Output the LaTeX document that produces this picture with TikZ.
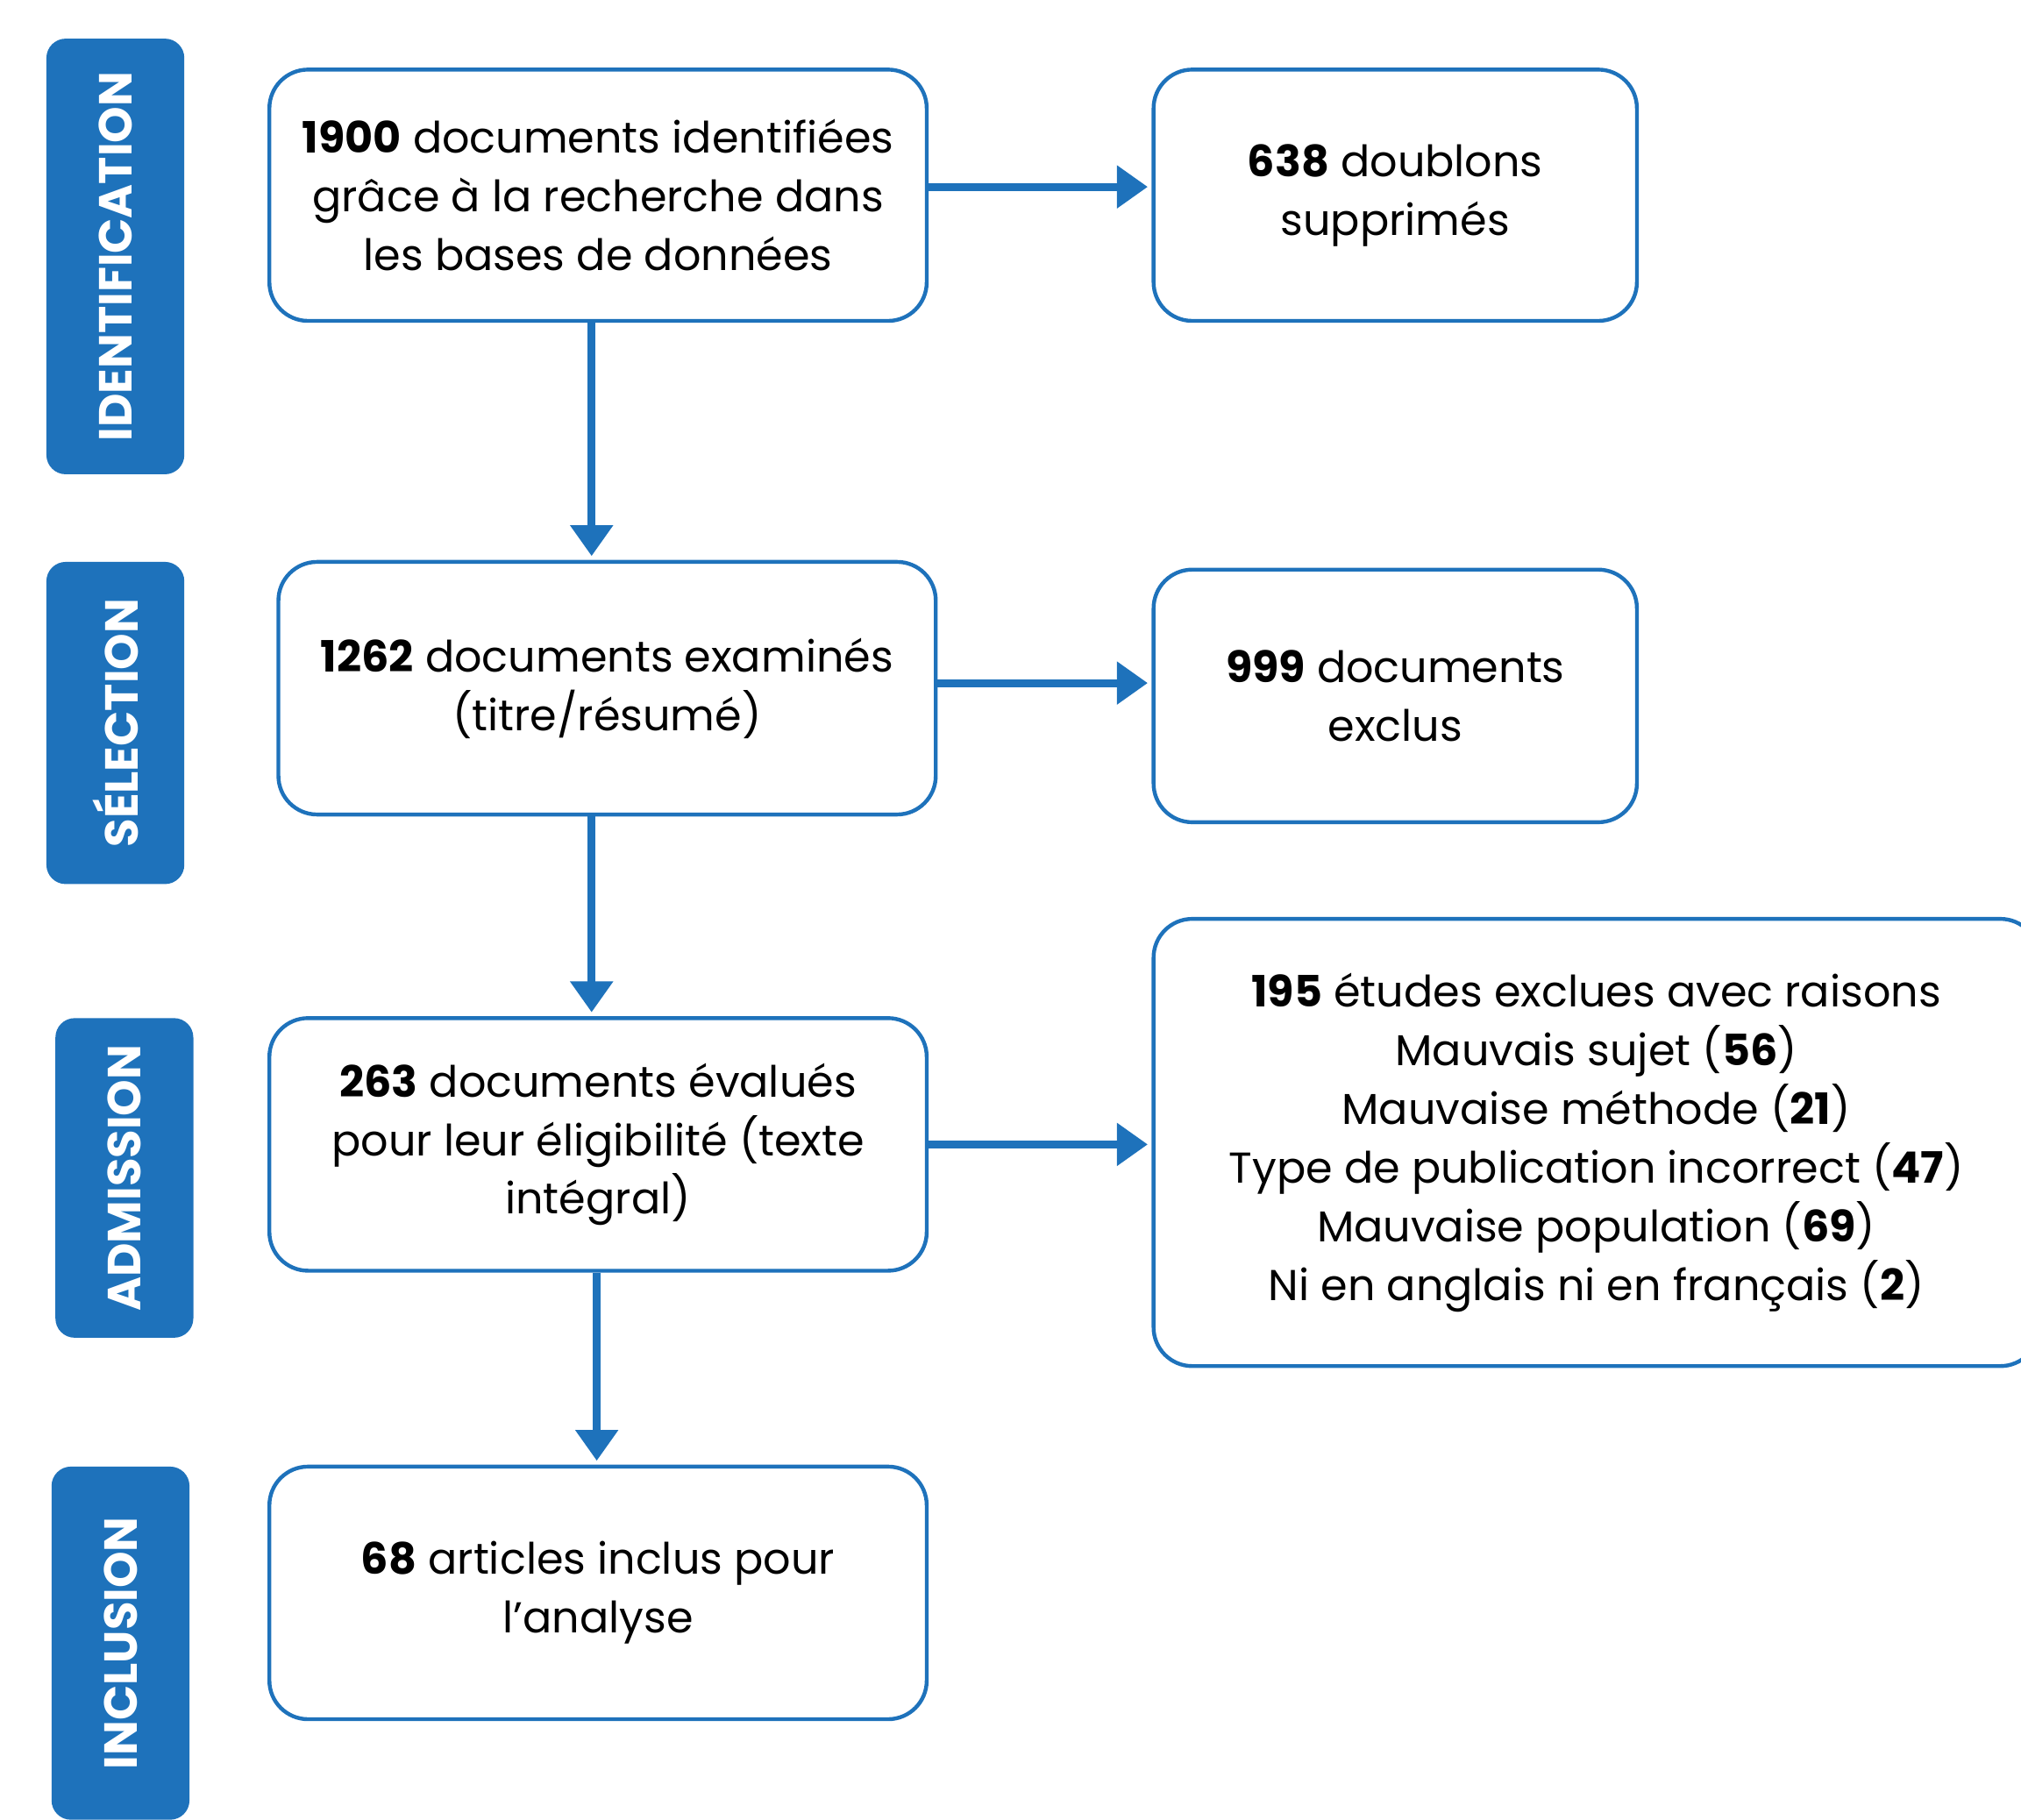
\documentclass[tikz,border=0pt]{standalone}
\usepackage{fontspec}
\setmainfont{Poppins}
\usetikzlibrary{arrows.meta}
\definecolor{pblue}{RGB}{30,114,187}
\tikzset{
  stepbox/.style={draw=pblue, line width=3pt, rounded corners=30pt, fill=white, align=center, inner sep=0pt, font=\fontsize{33.5}{45.5}\selectfont, text=black},
  phase/.style={fill=pblue, rounded corners=15pt, rotate=90, inner sep=0pt, minimum height=107pt, text=white, font=\fontsize{36}{40}\selectfont\bfseries},
  flow/.style={draw=pblue, line width=6pt, -{Triangle[length=24pt,width=32pt]}, shorten >=3pt}
}
\begin{document}
\begin{tikzpicture}[x=1pt,y=-1pt]
\useasboundingbox (0,0) rectangle (1568,1412);
\clip (0,0) rectangle (1568,1412);
% phase bars
\node[phase, minimum width=338pt] (pid) at (89.5,199) {IDENTIFICATION};
\node[phase, minimum width=250pt] (psel) at (89.5,561) {SÉLECTION};
\node[phase, minimum width=248pt] (padm) at (96.5,914) {ADMISSION};
\node[phase, minimum width=274pt, text depth=0pt] (pinc) at (93.5,1275) {INCLUSION};
% boxes
\node[stepbox, minimum width=510pt, minimum height=195pt] (b1) at (464,151.5)
  {\textbf{1900} documents identifiées\\grâce à la recherche dans\\les bases de données};
\node[stepbox, minimum width=375pt, minimum height=195pt] (b2) at (1082.5,151.5)
  {\textbf{638} doublons\\supprimés};
\node[stepbox, minimum width=510pt, minimum height=196pt] (b3) at (471,534)
  {\textbf{1262} documents examinés\\(titre/résumé)};
\node[stepbox, minimum width=375pt, minimum height=196pt] (b4) at (1082.5,540)
  {\textbf{999} documents\\exclus};
\node[stepbox, minimum width=510pt, minimum height=196pt] (b5) at (464,888)
  {\textbf{263} documents évalués\\pour leur éligibilité (texte\\intégral)};
\node[stepbox, minimum width=687pt, minimum height=347pt] (b6) at (1238.5,886.5)
  {\textbf{195} études exclues avec raisons\\Mauvais sujet (\textbf{56})\\Mauvaise méthode (\textbf{21})\\Type de publication incorrect (\textbf{47})\\Mauvaise population (\textbf{69})\\Ni en anglais ni en français (\textbf{2})};
\node[stepbox, minimum width=510pt, minimum height=196pt] (b7) at (464,1236)
  {\textbf{68} articles inclus pour\\l’analyse};
% arrows
\draw[flow] (b1.east |- 0,145) -- (b2.west |- 0,145);
\draw[flow] (b1.south -| 459,0) -- (b3.north -| 459,0);
\draw[flow] (b3.east |- 0,530) -- (b4.west |- 0,530);
\draw[flow] (b3.south -| 459,0) -- (b5.north -| 459,0);
\draw[flow] (b5.east |- 0,888) -- (b6.west |- 0,888);
\draw[flow] (b5.south -| 463,0) -- (b7.north -| 463,0);
\end{tikzpicture}
\end{document}
